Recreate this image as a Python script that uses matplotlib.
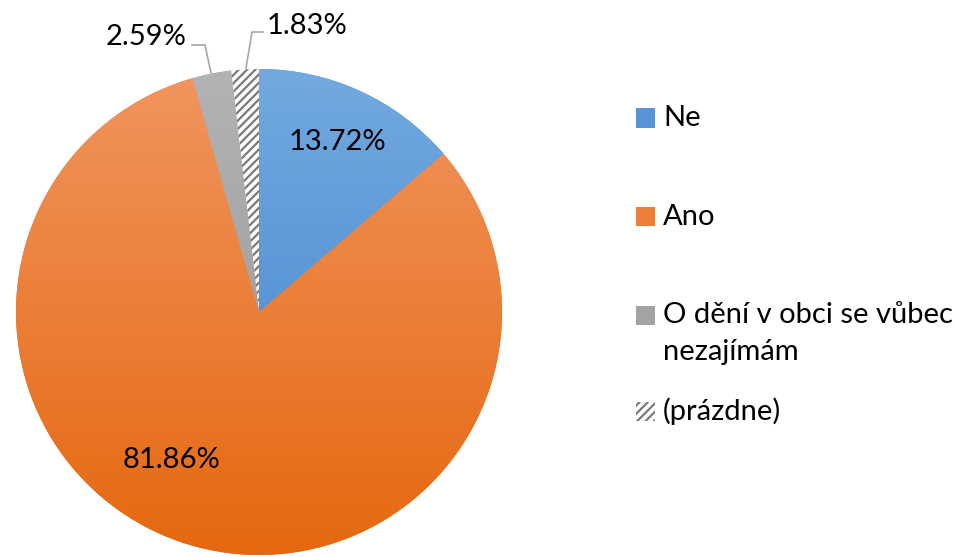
import numpy as np
import matplotlib
matplotlib.use("Agg")
import matplotlib.pyplot as plt
from matplotlib.colors import LinearSegmentedColormap, to_rgb
from matplotlib.patches import Rectangle

# survey answers, clockwise from 12 o'clock
labels = ["Ne", "Ano", "O dění v obci se vůbec\nnezajímám", "(prázdne)"]
shares = [13.72, 81.86, 2.59, 1.83]

# top / bottom shades of each slice
top_colors = ["#72a9e0", "#f1955f", "#b3b3b3", "#ffffff"]
bottom_colors = ["#3f82cc", "#e5680f", "#939393", "#ffffff"]

plt.rcParams["font.family"] = ["Lato", "DejaVu Sans"]
plt.rcParams["hatch.linewidth"] = 1.6
plt.rcParams["hatch.color"] = "#7a7a7a"

W, H = 956, 557
fig = plt.figure(figsize=(W / 100, H / 100), dpi=100)

cx, cy, rad = 259, 312, 243
ax = fig.add_axes([(cx - rad) / W, (H - cy - rad) / H, 2 * rad / W, 2 * rad / H])

wedges, _ = ax.pie(shares, startangle=90, counterclock=False,
                   colors=bottom_colors, radius=1.0,
                   wedgeprops=dict(linewidth=0))

# vertical gradient inside each slice
for i, w in enumerate(wedges):
    if i == 3:
        w.set_facecolor("white")
        w.set_hatch("////")
        w.set_edgecolor("#7a7a7a")
        w.set_linewidth(0)
        continue
    cmap = LinearSegmentedColormap.from_list("g%d" % i, [bottom_colors[i], top_colors[i]])
    grad = np.linspace(0, 1, 256).reshape(-1, 1)
    im = ax.imshow(grad, cmap=cmap, extent=(-1, 1, -1, 1), origin="lower",
                   aspect="auto", zorder=w.get_zorder() + 0.1)
    im.set_clip_path(w)
ax.set_xlim(-1, 1)
ax.set_ylim(-1, 1)
ax.set_aspect("equal")
ax.axis("off")

def px(x, y):
    # pixel position -> pie data coordinates
    return (x - cx) / rad, (cy - y) / rad

fs = 21
pct = ["%.2f%%" % s for s in shares]

# labels inside the two big slices
ax.text(*px(337, 142), pct[0], fontsize=fs, ha="center", va="center", zorder=5)
ax.text(*px(171, 460), pct[1], fontsize=fs, ha="center", va="center", zorder=5)

# outside labels with leader lines
ax.text(*px(146, 37), pct[2], fontsize=fs, ha="center", va="center", clip_on=False)
ax.text(*px(307, 26), pct[3], fontsize=fs, ha="center", va="center", clip_on=False)
for pts in ([(192, 45), (205, 45), (211, 73)], [(263, 32), (252, 32), (246, 68)]):
    xs, ys = zip(*[px(*p) for p in pts])
    ax.plot(xs, ys, color="#a6a6a6", lw=1.2, clip_on=False, zorder=4)

# legend on the right
leg_rows = [118, 217, 315, 411]
for i, yy in enumerate(leg_rows):
    mid = 0.5 * (np.array(to_rgb(top_colors[i])) + np.array(to_rgb(bottom_colors[i])))
    r = Rectangle((636 / W, 1 - (yy + 9.5) / H), 19 / W, 19 / H,
                  transform=fig.transFigure, facecolor=mid, edgecolor="#7a7a7a",
                  linewidth=0)
    if i == 3:
        r.set_hatch("////")
    fig.patches.append(r)
    for j, line in enumerate(labels[i].split("\n")):
        fig.text(663 / W, 1 - (yy + 37 * j) / H, line, fontsize=fs,
                 va="center", ha="left")

fig.savefig("out.png", dpi=100)
